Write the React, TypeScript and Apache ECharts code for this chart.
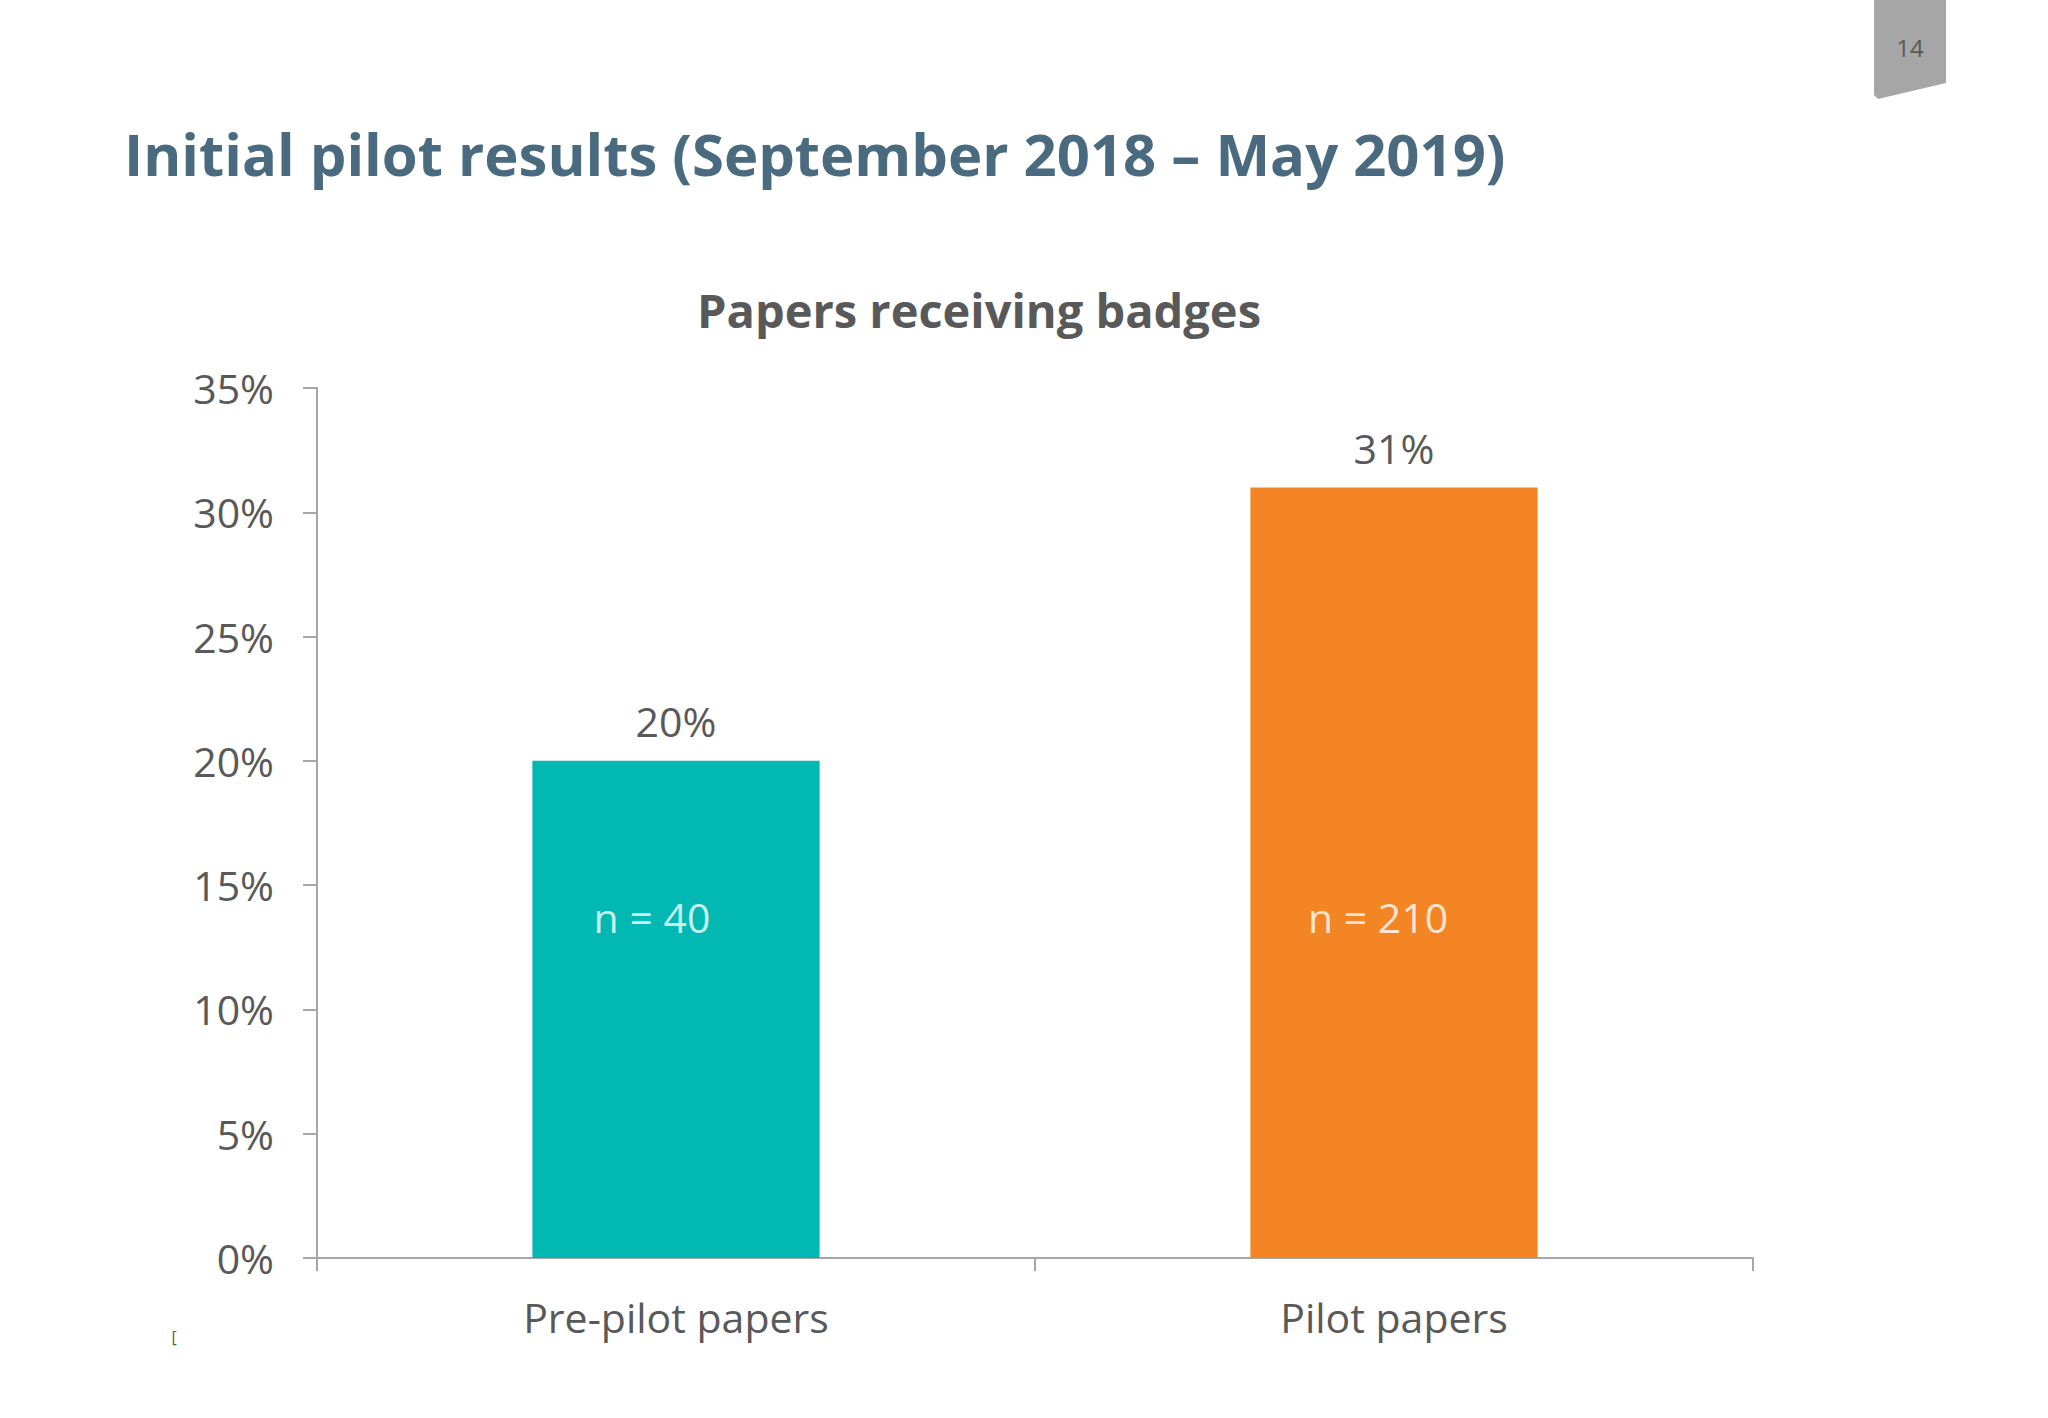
import React, { useEffect, useRef } from "react";
import * as echarts from "echarts";

const categories = ["Pre-pilot papers", "Pilot papers"];
const shares = [0.2, 0.31];
const barColors = ["#02B8B2", "#F48524"];
const sampleLabels = ["n = 40", "n = 210"];
const sampleLabelLevel = [0.137, 0.137];
const sampleLabelShift = [-24, -16];
const yTicks = { min: 0, max: 0.35, interval: 0.05 };

const FONT = "'Open Sans', 'Noto Sans', sans-serif";
const GREY_TEXT = "#595959";
const AXIS_GREY = "#A6A6A6";

export default function App() {
  const ref = useRef<HTMLDivElement>(null);
  useEffect(() => {
    if (!ref.current) return;
    const chart = echarts.init(ref.current, undefined, { renderer: "svg" });
    chart.setOption({
      animation: false,
      backgroundColor: "#FFFFFF",
      textStyle: { fontFamily: FONT },
      grid: { left: 317, right: 295, top: 388, bottom: 160 },
      xAxis: {
        type: "category",
        data: categories,
        boundaryGap: true,
        axisLine: { show: true, lineStyle: { color: AXIS_GREY, width: 2 } },
        axisTick: { show: true, alignWithLabel: false, length: 13, lineStyle: { color: AXIS_GREY, width: 2 } },
        axisLabel: { color: GREY_TEXT, fontSize: 41, fontFamily: FONT, margin: 38 },
      },
      yAxis: {
        type: "value",
        min: yTicks.min,
        max: yTicks.max,
        interval: yTicks.interval,
        axisLine: { show: true, lineStyle: { color: AXIS_GREY, width: 2 } },
        axisTick: { show: true, length: 14, lineStyle: { color: AXIS_GREY, width: 2 } },
        splitLine: { show: false },
        axisLabel: {
          color: GREY_TEXT,
          fontSize: 41,
          fontFamily: FONT,
          margin: 43,
          formatter: (v: number) => `${Math.round(v * 100)}%`,
        },
      },
      series: [
        {
          type: "bar",
          barWidth: "40%",
          data: shares.map((v, i) => ({ value: v, itemStyle: { color: barColors[i] } })),
          label: {
            show: true,
            position: "top",
            distance: 19,
            color: GREY_TEXT,
            fontSize: 41,
            fontFamily: FONT,
            formatter: (p: any) => `${Math.round(p.value * 100)}%`,
          },
        },
        {
          type: "scatter",
          symbolSize: 0,
          silent: true,
          data: sampleLabelLevel.map((v, i) => ({
            value: [categories[i], v],
            label: { offset: [sampleLabelShift[i], 0] },
          })),
          label: {
            show: true,
            position: "inside",
            color: "#FFFFFF",
            fontSize: 41,
            fontFamily: FONT,
            formatter: (p: any) => sampleLabels[p.dataIndex],
          },
          z: 5,
        },
      ],
      graphic: [
        {
          type: "text",
          left: 124,
          top: 124,
          style: {
            text: "Initial pilot results (September 2018 – May 2019)",
            fill: "#4A6A80",
            font: `bold 58px ${FONT}`,
          },
        },
        {
          type: "text",
          x: 979,
          y: 310,
          style: {
            text: "Papers receiving badges",
            fill: GREY_TEXT,
            font: `bold 47px ${FONT}`,
            textAlign: "center",
            textVerticalAlign: "middle",
          },
        },
        {
          type: "polygon",
          shape: { points: [[1874, 0], [1946, 0], [1946, 83], [1878, 99], [1874, 95]] },
          style: { fill: "#A6A6A6" },
        },
        {
          type: "text",
          x: 1910,
          y: 47,
          style: {
            text: "14",
            fill: GREY_TEXT,
            font: `24px ${FONT}`,
            textAlign: "center",
            textVerticalAlign: "middle",
          },
        },
        {
          type: "text",
          x: 174,
          y: 1337,
          style: {
            text: "[",
            fill: GREY_TEXT,
            font: `16px ${FONT}`,
            textAlign: "center",
            textVerticalAlign: "middle",
          },
        },
      ],
    });
    return () => chart.dispose();
  }, []);
  return (
    <div
      ref={ref}
      style={{ position: "fixed", left: 0, top: 0, width: 2048, height: 1418 }}
    />
  );
}
